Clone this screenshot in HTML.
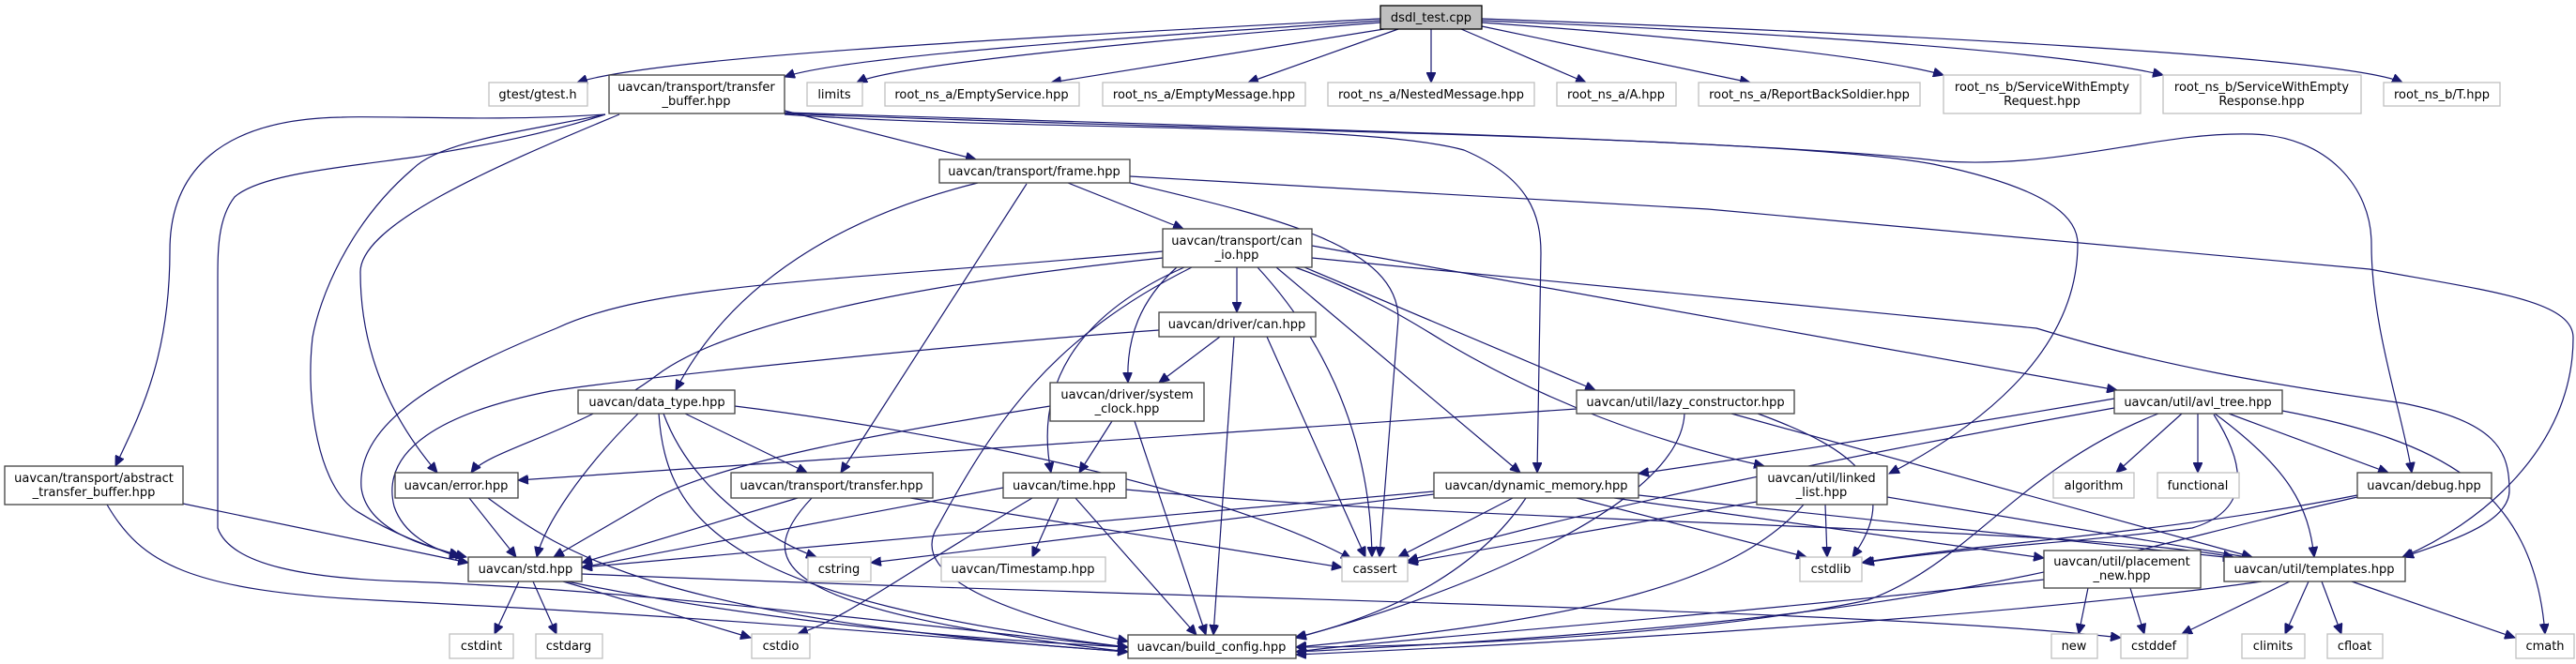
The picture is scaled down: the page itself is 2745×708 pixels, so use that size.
<!DOCTYPE html>
<html><head><meta charset="utf-8"><style>
html,body{margin:0;padding:0;background:#fff}
svg{display:block}
text{font-family:"DejaVu Sans","Liberation Sans",sans-serif;font-size:13px;fill:#000;text-anchor:middle}
.e{fill:none;stroke:#191970;stroke-width:1.2}
.n{fill:#fff;stroke:#404040;stroke-width:1.3}
.l{fill:#fff;stroke:#bfbfbf;stroke-width:1.3}
</style></head><body>
<svg width="2745" height="708" viewBox="0 0 2745 708" xmlns="http://www.w3.org/2000/svg">
<defs><marker id="a" markerUnits="userSpaceOnUse" markerWidth="12" markerHeight="10" refX="11" refY="5" orient="auto"><path d="M0,0 L11,5 L0,10 z" fill="#191970" stroke="#191970"/></marker></defs>
<g class="e" marker-end="url(#a)">
<path d="M1471,20 C1100,40 700,60 615,88"/>
<path d="M1471,22 C1200,40 900,60 836,82"/>
<path d="M1471,24 C1200,45 950,70 913,88"/>
<path d="M1475,31 L1120,88"/>
<path d="M1490,31 L1330,88"/>
<path d="M1525,31 L1525,88"/>
<path d="M1557,31 L1690,88"/>
<path d="M1579,28 L1865,88"/>
<path d="M1579,24 C1800,40 2000,60 2071,80"/>
<path d="M1579,22 C1900,35 2200,55 2305,80"/>
<path d="M1579,20 C2000,35 2500,60 2560,88"/>
<path d="M645,122 C528,130 411,123 364,125 C235,127 181,183 181,267 C181,380 150,440 123,497"/>
<path d="M645,122 C560,150 480,160 446,167 C350,180 276,187 250,210 C232,233 232,267 232,300 L232,563 C246,603 329,617 434,620 C700,630 1000,670 1202,690"/>
<path d="M645,122 C560,140 470,150 440,180 C370,240 340,320 333,360 C325,430 340,520 380,545 C420,570 460,585 497,594"/>
<path d="M660,122 C520,180 384,240 384,290 C384,380 420,450 466,504"/>
<path d="M836,118 L1040,170"/>
<path d="M836,122 C1100,140 1450,130 1560,160 C1630,190 1642,230 1642,270 L1638,504"/>
<path d="M836,121 C1300,140 1900,145 2060,175 C2180,200 2214,230 2214,260 C2214,380 2100,460 2013,505"/>
<path d="M836,120 C1300,135 1900,150 2070,172 C2200,180 2300,140 2400,143 C2480,145 2527,200 2527,260 C2527,350 2560,440 2570,504"/>
<path d="M1204,188 L1820,223 L2525,287 C2650,310 2742,320 2742,360 C2742,480 2640,560 2560,594"/>
<path d="M1138,195 L1261,244"/>
<path d="M1042,195 C900,230 780,300 720,416"/>
<path d="M1094,196 L896,504"/>
<path d="M1204,195 C1350,230 1490,260 1490,340 L1470,594"/>
<path d="M1318,285 L1318,333"/>
<path d="M1254,285 C1215,320 1200,360 1202,408"/>
<path d="M1262,285 C1160,330 1100,400 1120,504"/>
<path d="M1239,275 C1000,300 780,340 700,400 C620,460 520,480 502,504"/>
<path d="M1239,268 C900,300 700,300 593,350 C470,400 380,450 385,520 C390,560 440,580 490,592"/>
<path d="M1270,285 C1120,360 1060,450 1000,560 C960,620 1100,660 1202,684"/>
<path d="M1340,285 C1400,350 1460,450 1462,594"/>
<path d="M1360,285 L1620,504"/>
<path d="M1390,285 L1700,416"/>
<path d="M1380,285 C1450,310 1500,340 1540,365 C1650,430 1760,470 1880,497"/>
<path d="M1398,262 L2256,416"/>
<path d="M1398,275 L2170,350 C2300,390 2420,410 2561,430 C2660,450 2674,480 2674,523 C2674,560 2600,580 2561,594"/>
<path d="M1300,359 L1235,408"/>
<path d="M1235,352 C1050,365 700,400 587,417 C470,440 405,480 420,540 C430,570 460,585 490,594"/>
<path d="M1315,359 L1293,677"/>
<path d="M1350,359 L1455,594"/>
<path d="M1185,449 L1150,504"/>
<path d="M1119,433 C950,460 780,490 700,530 L590,594"/>
<path d="M1209,449 L1285,677"/>
<path d="M680,441 C620,500 580,560 572,594"/>
<path d="M730,441 L860,504"/>
<path d="M707,441 C740,530 830,580 870,594"/>
<path d="M702,441 C710,560 780,640 1202,690"/>
<path d="M783,433 C1000,460 1300,520 1440,596"/>
<path d="M1680,436 L552,512"/>
<path d="M1795,441 C1790,550 1500,650 1380,680"/>
<path d="M1873,441 C1980,480 2027,520 1974,594"/>
<path d="M1845,441 L2400,594"/>
<path d="M2253,425 C2050,460 1850,490 1746,505"/>
<path d="M2253,435 C2000,480 1700,540 1500,598"/>
<path d="M2325,441 L2255,504"/>
<path d="M2342,441 L2342,504"/>
<path d="M2375,441 L2545,504"/>
<path d="M2360,441 C2440,500 2460,540 2466,594"/>
<path d="M2432,438 C2600,470 2700,520 2712,676"/>
<path d="M2300,441 C2150,500 2100,600 1990,640 C1800,680 1500,690 1381,690"/>
<path d="M2359,442 C2407,517 2380,550 2336,563 C2200,580 2100,583 1986,600"/>
<path d="M500,531 L550,594"/>
<path d="M520,531 C600,590 700,660 1202,695"/>
<path d="M850,531 L620,600"/>
<path d="M865,531 C800,600 820,650 1202,695"/>
<path d="M970,531 L1430,605"/>
<path d="M1069,520 L620,605"/>
<path d="M1146,531 L1275,677"/>
<path d="M1100,531 C950,620 900,660 850,676"/>
<path d="M1128,531 L1100,594"/>
<path d="M1200,522 C1600,560 2200,560 2380,594"/>
<path d="M1528,527 L928,600"/>
<path d="M1528,524 L620,605"/>
<path d="M1612,531 L1490,594"/>
<path d="M1626,531 C1580,600 1500,650 1381,680"/>
<path d="M1680,531 L1925,594"/>
<path d="M1720,531 L2178,595"/>
<path d="M1746,528 L2380,595"/>
<path d="M1872,535 L1500,600"/>
<path d="M1945,538 L1947,594"/>
<path d="M1922,538 C1850,620 1700,660 1381,690"/>
<path d="M2011,530 L2400,595"/>
<path d="M2512,528 C2300,570 2100,580 1984,600"/>
<path d="M2512,530 C2200,600 2100,660 1381,695"/>
<path d="M195,537 L499,600"/>
<path d="M114,538 C150,600 200,630 400,640 C800,660 1000,680 1202,695"/>
<path d="M553,620 L527,676"/>
<path d="M568,620 L593,676"/>
<path d="M600,620 L800,680"/>
<path d="M604,620 C800,660 1000,680 1202,690"/>
<path d="M620,612 C1300,640 2000,650 2260,680"/>
<path d="M2225,627 L2215,676"/>
<path d="M2270,627 L2285,676"/>
<path d="M2178,618 C1800,660 1500,680 1381,695"/>
<path d="M2440,620 L2325,676"/>
<path d="M2460,620 L2435,676"/>
<path d="M2474,620 L2495,676"/>
<path d="M2506,620 L2680,680"/>
<path d="M2410,620 C2200,650 1800,680 1381,698"/>
</g>
<!-- nodes -->
<rect x="1471" y="6" width="108" height="25" fill="#bfbfbf" stroke="#000" stroke-width="1.3"/><text x="1525" y="23">dsdl_test.cpp</text>
<rect class="l" x="521" y="88" width="105" height="25"/><text x="573" y="105">gtest/gtest.h</text>
<rect class="n" x="649" y="80" width="187" height="41"/><text x="742" y="97">uavcan/transport/transfer</text><text x="742" y="112">_buffer.hpp</text>
<rect class="l" x="860" y="88" width="59" height="25"/><text x="889" y="105">limits</text>
<rect class="l" x="943" y="88" width="207" height="25"/><text x="1046" y="105">root_ns_a/EmptyService.hpp</text>
<rect class="l" x="1175" y="88" width="216" height="25"/><text x="1283" y="105">root_ns_a/EmptyMessage.hpp</text>
<rect class="l" x="1415" y="88" width="220" height="25"/><text x="1525" y="105">root_ns_a/NestedMessage.hpp</text>
<rect class="l" x="1659" y="88" width="127" height="25"/><text x="1722" y="105">root_ns_a/A.hpp</text>
<rect class="l" x="1810" y="88" width="236" height="25"/><text x="1928" y="105">root_ns_a/ReportBackSoldier.hpp</text>
<rect class="l" x="2071" y="80" width="210" height="41"/><text x="2176" y="97">root_ns_b/ServiceWithEmpty</text><text x="2176" y="112">Request.hpp</text>
<rect class="l" x="2305" y="80" width="211" height="41"/><text x="2410" y="97">root_ns_b/ServiceWithEmpty</text><text x="2410" y="112">Response.hpp</text>
<rect class="l" x="2540" y="88" width="124" height="25"/><text x="2602" y="105">root_ns_b/T.hpp</text>
<rect class="n" x="1001" y="170" width="203" height="25"/><text x="1102" y="187">uavcan/transport/frame.hpp</text>
<rect class="n" x="1239" y="244" width="159" height="41"/><text x="1318" y="261">uavcan/transport/can</text><text x="1318" y="276">_io.hpp</text>
<rect class="n" x="1235" y="333" width="167" height="26"/><text x="1318" y="350">uavcan/driver/can.hpp</text>
<rect class="n" x="1119" y="408" width="164" height="41"/><text x="1201" y="425">uavcan/driver/system</text><text x="1201" y="440">_clock.hpp</text>
<rect class="n" x="616" y="416" width="167" height="25"/><text x="700" y="433">uavcan/data_type.hpp</text>
<rect class="n" x="1680" y="416" width="232" height="25"/><text x="1796" y="433">uavcan/util/lazy_constructor.hpp</text>
<rect class="n" x="2253" y="416" width="179" height="25"/><text x="2342" y="433">uavcan/util/avl_tree.hpp</text>
<rect class="n" x="5" y="497" width="190" height="41"/><text x="100" y="514">uavcan/transport/abstract</text><text x="100" y="529">_transfer_buffer.hpp</text>
<rect class="n" x="421" y="504" width="131" height="27"/><text x="486" y="522">uavcan/error.hpp</text>
<rect class="n" x="779" y="504" width="215" height="27"/><text x="886" y="522">uavcan/transport/transfer.hpp</text>
<rect class="n" x="1069" y="504" width="131" height="27"/><text x="1134" y="522">uavcan/time.hpp</text>
<rect class="n" x="1528" y="504" width="218" height="27"/><text x="1637" y="522">uavcan/dynamic_memory.hpp</text>
<rect class="n" x="1872" y="497" width="139" height="41"/><text x="1941" y="514">uavcan/util/linked</text><text x="1941" y="529">_list.hpp</text>
<rect class="l" x="2188" y="504" width="86" height="27"/><text x="2231" y="522">algorithm</text>
<rect class="l" x="2299" y="504" width="87" height="27"/><text x="2342" y="522">functional</text>
<rect class="n" x="2512" y="504" width="143" height="27"/><text x="2583" y="522">uavcan/debug.hpp</text>
<rect class="n" x="499" y="594" width="121" height="26"/><text x="560" y="611">uavcan/std.hpp</text>
<rect class="l" x="861" y="594" width="67" height="26"/><text x="894" y="611">cstring</text>
<rect class="l" x="1003" y="594" width="175" height="26"/><text x="1090" y="611">uavcan/Timestamp.hpp</text>
<rect class="l" x="1430" y="594" width="70" height="26"/><text x="1465" y="611">cassert</text>
<rect class="l" x="1918" y="594" width="66" height="26"/><text x="1951" y="611">cstdlib</text>
<rect class="n" x="2178" y="587" width="167" height="40"/><text x="2261" y="603">uavcan/util/placement</text><text x="2261" y="618">_new.hpp</text>
<rect class="n" x="2370" y="594" width="193" height="26"/><text x="2466" y="611">uavcan/util/templates.hpp</text>
<rect class="l" x="479" y="676" width="68" height="26"/><text x="513" y="693">cstdint</text>
<rect class="l" x="571" y="676" width="71" height="26"/><text x="606" y="693">cstdarg</text>
<rect class="l" x="801" y="676" width="62" height="26"/><text x="832" y="693">cstdio</text>
<rect class="n" x="1202" y="677" width="179" height="25"/><text x="1291" y="694">uavcan/build_config.hpp</text>
<rect class="l" x="2186" y="676" width="49" height="26"/><text x="2210" y="693">new</text>
<rect class="l" x="2260" y="676" width="71" height="26"/><text x="2295" y="693">cstddef</text>
<rect class="l" x="2389" y="676" width="67" height="26"/><text x="2422" y="693">climits</text>
<rect class="l" x="2480" y="676" width="59" height="26"/><text x="2509" y="693">cfloat</text>
<rect class="l" x="2681" y="676" width="62" height="26"/><text x="2712" y="693">cmath</text>
</svg>
</body></html>
